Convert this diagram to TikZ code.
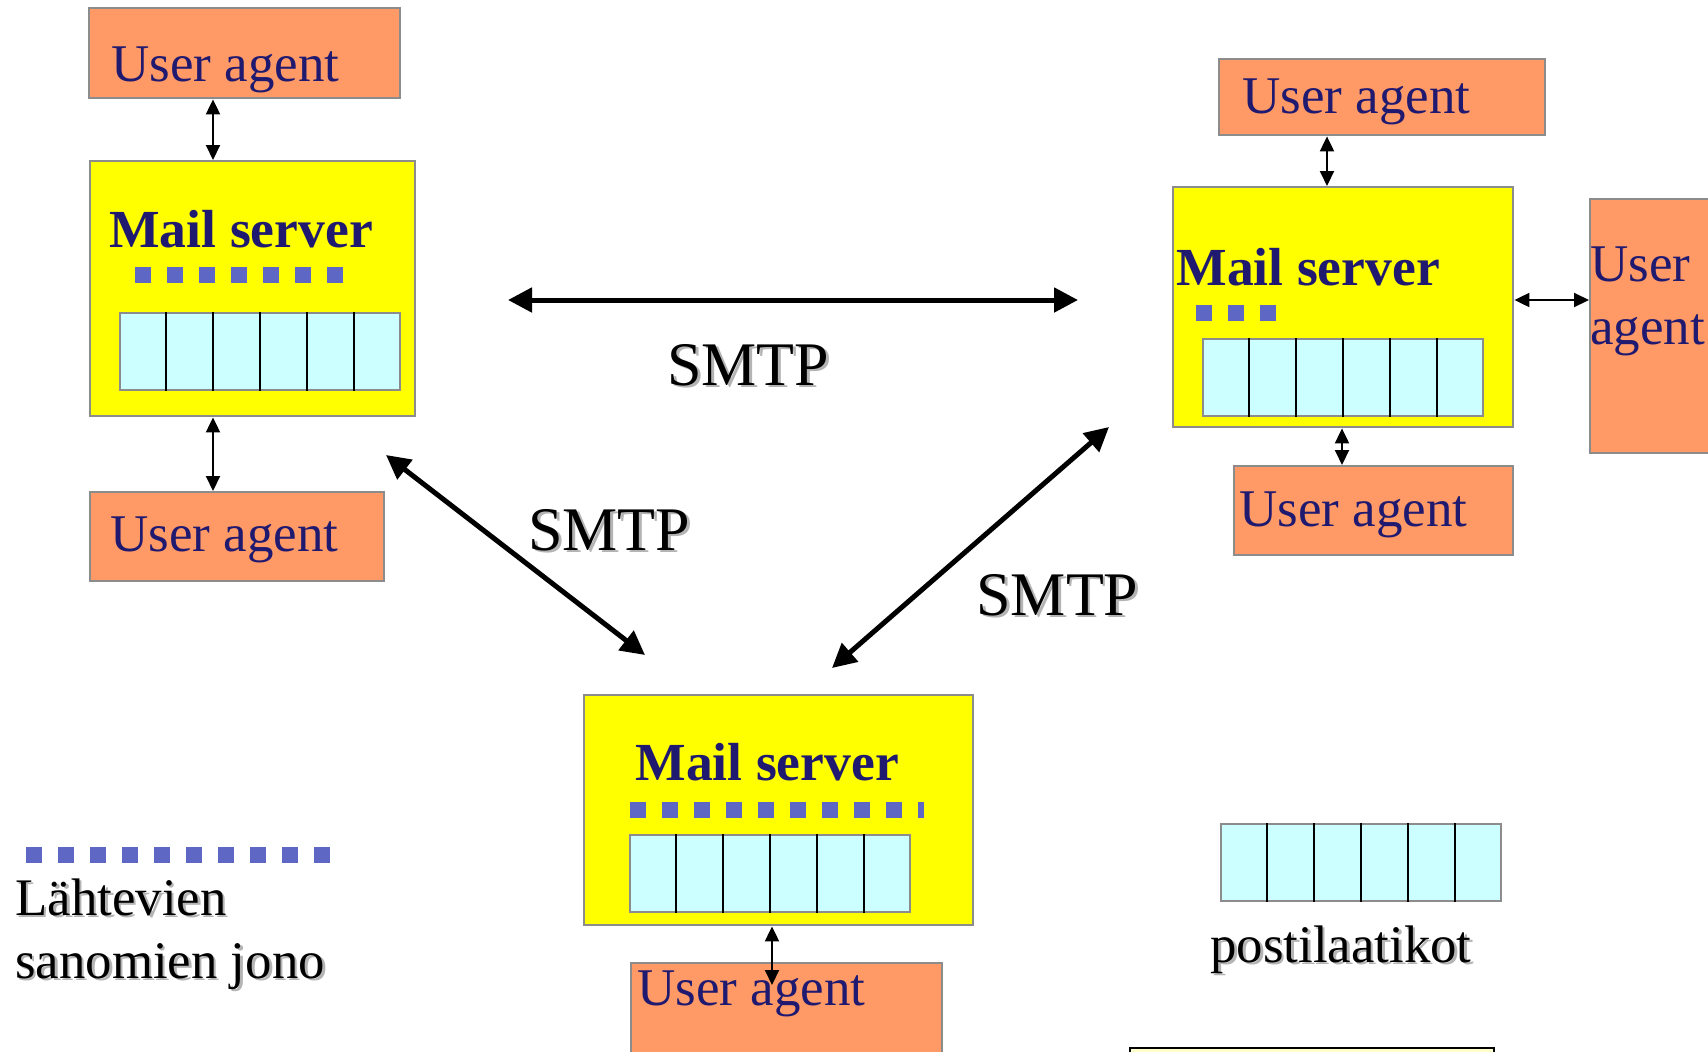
\documentclass[tikz,border=0pt]{standalone}
\usepackage{fontspec}
\setmainfont{Liberation Serif}
\usetikzlibrary{arrows.meta,calc}
\definecolor{uaorange}{HTML}{FF9966}
\definecolor{msyellow}{HTML}{FFFF00}
\definecolor{mbcyan}{HTML}{CCFFFF}
\definecolor{bordergray}{HTML}{8C8C8C}
\definecolor{txtblue}{HTML}{1F1A70}
\definecolor{qblue}{HTML}{5F67C4}
\definecolor{paleyellow}{HTML}{FFFFCC}
\definecolor{shadowgray}{HTML}{B4B4B4}
\newcommand{\shadowed}[1]{\leavevmode\rlap{\raisebox{-1.3pt}{\hspace{1.3pt}\textcolor{shadowgray}{#1}}}#1}
\newcommand{\mailboxrow}[2]{%
  \node[mailbox] (#1) at (#2) {};
  \foreach \k in {1,...,5}
    \draw[divider] ($(#1.north west)!\k/6!(#1.north east)$) -- ($(#1.south west)!\k/6!(#1.south east)$);
}
\tikzset{
  box/.style={draw=bordergray, line width=1.2pt, inner sep=0pt, anchor=north west},
  uabox/.style={box, fill=uaorange},
  msbox/.style={box, fill=msyellow},
  mailbox/.style={box, fill=mbcyan, minimum width=140pt, minimum height=38.5pt},
  divider/.style={black, line width=1pt},
  uatext/.style={inner sep=0pt, anchor=base west, text=txtblue, font=\fontsize{26.5pt}{32pt}\selectfont},
  mstext/.style={inner sep=0pt, anchor=base west, text=txtblue, font=\fontsize{26.8pt}{32pt}\selectfont\bfseries},
  plaintext/.style={inner sep=0pt, anchor=base west, font=\fontsize{26.4pt}{32pt}\selectfont},
  smtptext/.style={inner sep=0pt, anchor=base west, font=\fontsize{31pt}{36pt}\selectfont},
  smallarrow/.style={line width=1pt, {Triangle[length=7.5pt,width=7pt]}-{Triangle[length=7.5pt,width=7pt]}},
  bigarrow/.style={line width=2.5pt, {Triangle[length=12pt,width=12pt]}-{Triangle[length=12pt,width=12pt]}},
  queue/.style={draw=qblue, line width=8pt, dash pattern=on 8pt off 8pt},
}
\begin{document}
\begin{tikzpicture}[x=0.5pt,y=-0.5pt]
\useasboundingbox (0,0) rectangle (1708,1051);
\clip (0,0) rectangle (1708,1051);
\fill[white] (0,0) rectangle (1708,1051);

% boxes
\node[uabox, minimum width=155.5pt, minimum height=45pt] (ua1) at (88,7) {};
\node[msbox, minimum width=162.5pt, minimum height=127.5pt] (ms1) at (89,160) {};
\node[uabox, minimum width=147pt, minimum height=44.5pt] (ua2) at (89,491) {};
\node[uabox, minimum width=163pt, minimum height=38pt] (ua3) at (1218,58) {};
\node[msbox, minimum width=170pt, minimum height=120pt] (ms2) at (1172,186) {};
\node[uabox, minimum width=100pt, minimum height=127pt] (ua4) at (1589,198) {};
\node[uabox, minimum width=139.5pt, minimum height=44.5pt] (ua5) at (1233,465) {};
\node[msbox, minimum width=194.5pt, minimum height=115pt] (ms3) at (583,694) {};
\node[uabox, minimum width=155.5pt, minimum height=60pt] (ua6) at (630,962) {};
\node[box, draw=black, fill=paleyellow, minimum width=182pt, minimum height=20pt] (note) at (1129,1047) {};

% mailboxes
\mailboxrow{mbl}{119,312}
\mailboxrow{mbr}{1202,338}
\mailboxrow{mbb}{629,834}
\mailboxrow{mbleg}{1220,823}

% outgoing queues
\coordinate (q1a) at (135,275); \coordinate (q1b) at (343,275);
\coordinate (q2a) at (1196,313); \coordinate (q2b) at (1276,313);
\coordinate (q3a) at (630,810); \coordinate (q3b) at (924,810);
\coordinate (q4a) at (26,855); \coordinate (q4b) at (330,855);
\draw[queue] (q1a) -- (q1b);
\draw[queue] (q2a) -- (q2b);
\draw[queue] (q3a) -- (q3b);
\draw[queue] (q4a) -- (q4b);

% texts
\node[uatext] (t1) at (111,81) {User agent};
\node[mstext] (t2) at (109,247) {Mail server};
\node[uatext] (t3) at (110,551) {User agent};
\node[uatext] (t4) at (1242,113) {User agent};
\node[mstext] (t5) at (1176,285) {Mail server};
\node[uatext] (t6a) at (1590,281) {User};
\node[uatext] (t6b) at (1590,344) {agent};
\node[uatext] (t7) at (1239,526) {User agent};
\node[mstext] (t8) at (635,780) {Mail server};
\node[uatext] (t9) at (637,1005) {User agent};
\node[plaintext] (leg1) at (15,915) {\shadowed{Lähtevien}};
\node[plaintext] (leg2) at (15,978) {\shadowed{sanomien jono}};
\node[plaintext, anchor=base] (leg3) at (1341,962) {\shadowed{postilaatikot}};
\node[smtptext] (s1) at (667,385) {\shadowed{SMTP}};
\node[smtptext] (s2) at (528,550) {\shadowed{SMTP}};
\node[smtptext] (s3) at (976,615) {\shadowed{SMTP}};

% small arrows
\coordinate (cx1) at (213,0);
\coordinate (cx2) at (1327,0);
\coordinate (cy4) at (0,300);
\coordinate (cx5) at (1342,0);
\coordinate (a6end) at (772,985);
\draw[smallarrow] (ua1.south -| cx1) -- (ms1.north -| cx1);
\draw[smallarrow] (ms1.south -| cx1) -- (ua2.north -| cx1);
\draw[smallarrow] (ua3.south -| cx2) -- (ms2.north -| cx2);
\draw[smallarrow] (ms2.east |- cy4) -- (ua4.west |- cy4);
\draw[smallarrow] (ms2.south -| cx5) -- (ua5.north -| cx5);
\draw[smallarrow] (ms3.south -| a6end) -- (a6end);

% SMTP arrows
\coordinate (h1) at (508,300); \coordinate (h2) at (1078,300);
\coordinate (d1) at (386,455); \coordinate (d2) at (645,655);
\coordinate (e1) at (1109,427); \coordinate (e2) at (832,668);
\draw[bigarrow] (h1) -- (h2);
\draw[bigarrow] (d1) -- (d2);
\draw[bigarrow] (e1) -- (e2);
\end{tikzpicture}
\end{document}
